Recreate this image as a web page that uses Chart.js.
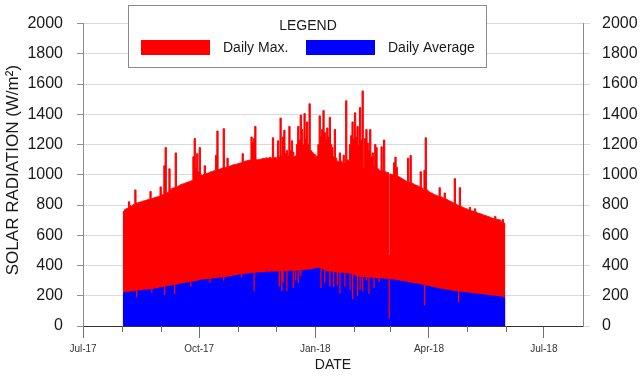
<!DOCTYPE html>
<html>
<head>
<meta charset="utf-8">
<script src="https://cdn.jsdelivr.net/npm/chart.js@4.4.0/dist/chart.umd.min.js"></script>
<style>
  html, body { margin: 0; padding: 0; background: #fff; }
  #chart { display: block; }
</style>
</head>
<body>
<canvas id="chart" width="643" height="377"></canvas>
<script>
// days counted from 1 Jul 2017; data runs daily from 1 Aug 2017 to 31 May 2018
const firstDay = 31;
const monthStarts = [0, 31, 62, 92, 123, 153, 184, 215, 243, 274, 304, 335, 365];
const tickDays = [0, 92, 184, 274, 365];
const tickLabels = ["Jul-17", "Oct-17", "Jan-18", "Apr-18", "Jul-18"];
const seriesLabels = ["Daily Max.", "Daily Average"];

const dailyMax = [
  745, 760, 770, 775, 780, 822, 795, 790, 800, 805, 900, 815, 812, 818, 820, 822, 825, 828, 830, 833, 835, 838, 890, 842, 845, 848, 850, 853, 855, 858, 920, // Aug
  865, 870, 1060, 1180, 880, 885, 1040, 905, 908, 912, 915, 1145, 920, 925, 928, 935, 938, 940, 943, 946, 950, 952, 955, 958, 962, 1120, 1240, 1050, 1140, 1020, // Sep
  1180, 1000, 995, 1000, 1060, 1005, 1010, 1012, 1015, 1020, 1022, 1025, 1028, 1130, 1290, 1035, 1038, 1040, 1045, 1305, 1048, 1050, 1110, 1055, 1058, 1060, 1064, 1066, 1068, 1070, 1072, // Oct
  1075, 1078, 1080, 1140, 1085, 1090, 1092, 1095, 1096, 1098, 1250, 1210, 1240, 1320, 1100, 1098, 1102, 1100, 1105, 1108, 1104, 1110, 1112, 1108, 1112, 1115, 1110, 1245, 1112, 1115, // Nov
  1110, 1225, 1120, 1375, 1130, 1250, 1295, 1140, 1160, 1130, 1320, 1160, 1225, 1150, 1120, 1125, 1200, 1320, 1230, 1395, 1300, 1200, 1405, 1240, 1350, 1200, 1470, 1160, 1150, 1140, 1135, // Dec
  1120, 1125, 1200, 1390, 1250, 1300, 1425, 1280, 1230, 1310, 1250, 1380, 1200, 1180, 1120, 1300, 1110, 1090, 1085, 1145, 1090, 1080, 1130, 1080, 1490, 1100, 1095, 1200, 1260, 1350, 1240, // Jan
  1410, 1250, 1320, 1200, 1445, 1230, 1555, 1045, 1240, 1300, 1210, 1160, 1300, 1120, 1145, 1060, 1200, 1180, 1040, 1030, 1025, 1185, 1030, 1230, 1020, 1015, 1015, 470, // Feb
  1005, 1002, 1000, 1080, 1117, 1050, 990, 985, 980, 975, 970, 965, 960, 955, 1110, 950, 1128, 945, 940, 935, 932, 928, 925, 920, 1020, 912, 905, 1030, 1245, 900, 892, // Mar
  885, 880, 878, 872, 868, 865, 862, 858, 915, 855, 850, 845, 880, 840, 835, 830, 826, 822, 818, 812, 975, 805, 800, 797, 915, 790, 785, 782, 778, 775, // Apr
  772, 768, 785, 762, 760, 757, 775, 752, 748, 745, 742, 740, 736, 733, 730, 728, 725, 722, 718, 715, 712, 710, 725, 706, 704, 702, 700, 690, 705, 680, 660 // May
];

const dailyAvg = [
  222, 224, 223, 226, 227, 226, 229, 230, 231, 230, 233, 190, 234, 236, 237, 236, 239, 240, 241, 240, 243, 244, 245, 218, 247, 248, 250, 249, 252, 254, 256, // Aug
  258, 259, 205, 262, 264, 266, 267, 268, 270, 272, 212, 274, 276, 277, 279, 280, 282, 284, 285, 287, 288, 290, 291, 262, 294, 295, 297, 298, 300, 302, // Sep
  305, 306, 307, 308, 309, 310, 311, 312, 282, 313, 314, 315, 316, 317, 318, 319, 320, 321, 322, 300, 324, 325, 326, 328, 329, 331, 332, 334, 335, 337, 339, // Oct
  341, 342, 322, 344, 345, 346, 347, 348, 349, 350, 351, 352, 231, 353, 354, 354, 355, 356, 356, 357, 357, 358, 358, 359, 359, 360, 360, 361, 361, 361, // Nov
  362, 362, 263, 362, 231, 290, 363, 364, 231, 364, 365, 365, 366, 252, 366, 300, 367, 282, 368, 330, 369, 370, 371, 372, 373, 374, 375, 376, 377, 378, 380, // Dec
  382, 384, 385, 383, 252, 378, 372, 284, 365, 362, 360, 262, 360, 358, 258, 357, 356, 270, 355, 215, 354, 353, 352, 260, 350, 349, 348, 240, 345, 177, 340, // Jan
  335, 330, 199, 328, 240, 326, 230, 324, 323, 300, 322, 211, 321, 320, 319, 250, 318, 317, 316, 290, 315, 314, 314, 313, 313, 312, 312, 51, // Feb
  311, 310, 309, 307, 306, 305, 303, 302, 300, 299, 297, 296, 294, 293, 291, 290, 288, 287, 285, 284, 282, 281, 279, 278, 276, 274, 272, 135, 270, 268, 266, // Mar
  264, 262, 260, 258, 256, 254, 252, 250, 249, 247, 246, 244, 243, 241, 240, 239, 237, 236, 235, 233, 232, 231, 230, 156, 228, 227, 226, 225, 224, 223, // Apr
  222, 221, 220, 219, 218, 217, 216, 215, 214, 213, 212, 211, 210, 209, 208, 207, 206, 205, 204, 203, 202, 201, 200, 199, 198, 197, 196, 195, 194, 186, 200 // May
];

Chart.defaults.font.family = "Arial, 'Liberation Sans', sans-serif";
Chart.defaults.color = "#1a1a1a";

const toPoints = (arr) => arr.map((v, i) => ({ x: firstDay + i + 0.5, y: v }));

// little month marks between the labelled quarters
const minorTicks = {
  id: "minorTicks",
  afterDraw(chart) {
    const ctx = chart.ctx;
    const xs = chart.scales.x;
    ctx.save();
    ctx.strokeStyle = "#707070";
    ctx.lineWidth = 1;
    monthStarts.forEach((d) => {
      if (tickDays.includes(d)) return;
      const px = Math.round(xs.getPixelForValue(d)) + 0.5;
      ctx.beginPath();
      ctx.moveTo(px, xs.top);
      ctx.lineTo(px, xs.top + 6);
      ctx.stroke();
    });
    ctx.restore();
  }
};

// boxed legend sitting over the top of the plot
const legendBox = {
  id: "legendBox",
  afterDraw(chart) {
    const ctx = chart.ctx;
    ctx.save();
    ctx.fillStyle = "#fff";
    ctx.fillRect(128.5, 5.5, 358, 62);
    ctx.strokeStyle = "#8a8a8a";
    ctx.lineWidth = 1;
    ctx.strokeRect(128.5, 5.5, 358, 62);

    ctx.fillStyle = "#1a1a1a";
    ctx.font = "14px Arial, 'Liberation Sans', sans-serif";
    ctx.textAlign = "center";
    ctx.textBaseline = "middle";
    ctx.fillText("LEGEND", 308, 26);

    const items = [
      { ds: chart.data.datasets[0], box: 141, text: 223 },
      { ds: chart.data.datasets[1], box: 306, text: 388 }
    ];
    ctx.textAlign = "left";
    items.forEach((it) => {
      ctx.fillStyle = it.ds.backgroundColor;
      ctx.fillRect(it.box, 40, 69, 15);
      ctx.fillStyle = "#1a1a1a";
      ctx.fillText(it.ds.label, it.text, 48);
    });
    ctx.restore();
  }
};

new Chart(document.getElementById("chart"), {
  type: "line",
  data: {
    datasets: [
      {
        label: seriesLabels[0],
        data: toPoints(dailyMax),
        backgroundColor: "#ff0000",
        borderColor: "#ff0000",
        borderWidth: 1,
        pointRadius: 0,
        stepped: "middle",
        fill: "origin",
        order: 1
      },
      {
        label: seriesLabels[1],
        data: toPoints(dailyAvg),
        backgroundColor: "#0000ff",
        borderColor: "#0000ff",
        borderWidth: 0,
        pointRadius: 0,
        stepped: "middle",
        fill: "origin",
        order: 0
      }
    ]
  },
  options: {
    responsive: false,
    animation: false,
    layout: { padding: { top: 6, left: 0, right: 0, bottom: 0 } },
    plugins: {
      legend: { display: false },
      tooltip: { enabled: false }
    },
    scales: {
      x: {
        type: "linear",
        min: 0,
        max: 396,
        afterBuildTicks: (scale) => {
          scale.ticks = tickDays.map((v) => ({ value: v }));
        },
        afterFit: (scale) => { scale.height = 51; },
        ticks: {
          autoSkip: false,
          maxRotation: 0,
          padding: 5,
          font: { size: 10 },
          color: "#333",
          callback: (v) => tickLabels[tickDays.indexOf(v)]
        },
        grid: {
          drawOnChartArea: false,
          tickLength: 12,
          tickColor: "#707070"
        },
        border: { color: "#333", width: 1 },
        title: {
          display: true,
          text: "DATE",
          font: { size: 14 },
          padding: { top: 0, bottom: 3 }
        }
      },
      y: {
        position: "left",
        min: 0,
        max: 2000,
        afterFit: (scale) => { scale.width = 83; },
        ticks: {
          stepSize: 200,
          padding: 14,
          font: { size: 16 },
          callback: (v) => String(v)
        },
        grid: {
          color: "#d9d9d9",
          tickColor: "#909090",
          tickLength: 6
        },
        border: { color: "#8a8a8a" },
        title: {
          display: true,
          text: "  SOLAR RADIATION (W/m²)",
          font: { size: 17 },
          padding: { top: 3, bottom: 0 }
        }
      },
      yRight: {
        position: "right",
        min: 0,
        max: 2000,
        afterFit: (scale) => { scale.width = 60; },
        ticks: {
          stepSize: 200,
          padding: 12,
          font: { size: 16 },
          callback: (v) => String(v)
        },
        grid: {
          drawOnChartArea: false,
          tickColor: "#d9d9d9",
          tickLength: 7
        },
        border: { color: "#8a8a8a" }
      }
    }
  },
  plugins: [minorTicks, legendBox]
});
</script>
</body>
</html>
